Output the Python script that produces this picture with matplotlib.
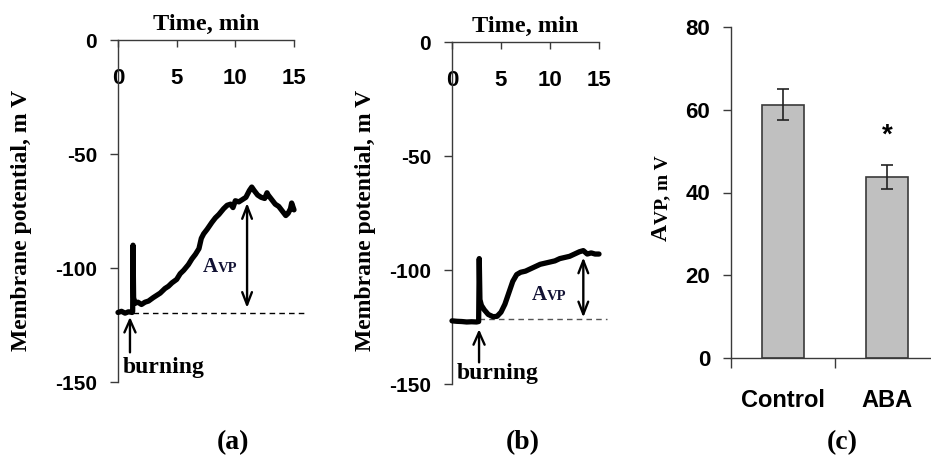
import numpy as np
import matplotlib.pyplot as plt

plt.rcParams["axes.unicode_minus"] = False

# Panel (a): membrane potential trace (time in min, potential in mV)
t_a = [0, 0.3, 0.6, 0.9, 1.2, 1.25, 1.28, 1.33, 1.45, 1.7, 2.0, 2.3, 2.6, 3.0, 3.3,
       3.6, 4.0, 4.3, 4.6, 5.0, 5.3, 5.6, 6.0, 6.3, 6.6, 6.9, 7.1, 7.3, 7.6, 8.0,
       8.3, 8.6, 9.0, 9.3, 9.6, 9.8, 10.0, 10.3, 10.6, 10.9, 11.2, 11.4, 11.6,
       11.9, 12.2, 12.5, 12.7, 12.8, 13.1, 13.4, 13.7, 14.0, 14.3, 14.5, 14.7,
       14.8, 15.0]
v_a = [-119.5, -119, -119.8, -119.2, -119.5, -119, -90, -113, -115.5, -115, -116,
       -115, -114.5, -113, -112, -111, -109, -108, -106.5, -105, -102.5, -101,
       -98.5, -96, -94, -91.5, -87, -85, -83, -80, -78, -76.5, -74, -72.5, -72,
       -73.5, -70.5, -71, -70, -69, -66, -64.5, -66, -68, -69, -69.5, -67, -68,
       -70, -72, -73, -75, -77, -76, -74, -71.5, -74.5]
base_a = -119.6

# Panel (b): membrane potential trace
t_b = [0, 0.5, 1.0, 1.5, 2.0, 2.5, 2.72, 2.78, 2.85, 3.0, 3.3, 3.7, 4.2, 4.6, 5.0,
       5.4, 5.8, 6.2, 6.6, 7.0, 7.5, 8.0, 8.5, 9.0, 9.5, 10.0, 10.5, 11.0, 11.5,
       12.0, 12.5, 13.0, 13.4, 13.8, 14.2, 14.6, 15.0]
v_b = [-122.3, -122.5, -122.6, -122.8, -122.7, -122.8, -122.6, -95, -113, -115.5,
       -117.5, -119.5, -120.5, -120.3, -118.5, -115, -110, -105, -102, -101,
       -100.5, -99.5, -98.5, -97.5, -97, -96.5, -96, -95, -94.5, -94, -93, -92,
       -91.5, -93, -92.5, -93, -93]
base_b = -121.3

# Panel (c): A_VP bars
groups = ["Control", "ABA"]
avp_mean = [61.2, 43.8]
avp_err = [3.7, 2.9]

serif = "Liberation Serif"
sans = "Liberation Sans"
axcol = "#3a3a3a"

fig = plt.figure(figsize=(9.31, 4.59), dpi=100)


def trace_axes(rect, t, v, base, t0, dash_end, dash_col, arr_t, arr_top, arr_bot,
               lab_xy, burn_t, burn_tail, burn_tip, burn_xy):
    ax = fig.add_axes(rect)
    ax.set_xlim(0, 15)
    ax.set_ylim(-150, 0)
    ax.spines["top"].set_visible(False)
    ax.spines["right"].set_visible(False)
    ax.spines["bottom"].set_position(("data", 0))
    for s in ("left", "bottom"):
        ax.spines[s].set_color(axcol)
        ax.spines[s].set_linewidth(1.0)
    ax.set_xticks([0, 5, 10, 15])
    ax.set_yticks([0, -50, -100, -150])
    ax.tick_params(axis="x", direction="out", length=5, width=1, color=axcol,
                   pad=15, labelsize=16)
    ax.tick_params(axis="y", direction="out", length=6, width=1, color=axcol,
                   pad=9, labelsize=15)
    for lab in ax.get_xticklabels() + ax.get_yticklabels():
        lab.set_fontfamily(sans)
        lab.set_fontweight("bold")
    ax.xaxis.set_label_position("top")
    ax.set_xlabel("Time, min", fontfamily=serif, fontweight="bold", fontsize=17.5,
                  labelpad=7)

    ax.plot(t, v, color="black", lw=3.8, solid_joinstyle="round",
            solid_capstyle="round", clip_on=False, zorder=3)
    ax.plot([t0, dash_end], [base, base], ls=(0, (4, 3)), color=dash_col, lw=1.0,
            clip_on=False)
    ax.annotate("", xy=(arr_t, arr_top), xytext=(arr_t, arr_bot),
                arrowprops=dict(arrowstyle="<->,head_length=0.9,head_width=0.35",
                                lw=1.7, color="black", shrinkA=0, shrinkB=0))
    ax.text(lab_xy[0], lab_xy[1], "A", fontfamily=serif, fontweight="bold",
            fontsize=15, ha="right", va="baseline", color="#111133")
    ax.text(lab_xy[0], lab_xy[1], "VP", fontfamily=serif, fontweight="bold",
            fontsize=10.5, ha="left", va="baseline", color="#111133")
    ax.annotate("", xy=(burn_t, burn_tip), xytext=(burn_t, burn_tail),
                arrowprops=dict(arrowstyle="->,head_length=0.9,head_width=0.4",
                                lw=1.7, color="black", shrinkA=0, shrinkB=0),
                annotation_clip=False)
    ax.text(burn_xy[0], burn_xy[1], "burning", fontfamily=serif, fontweight="bold",
            fontsize=17, ha="left", va="center")
    return ax


ax_a = trace_axes([118 / 931, 1 - 382 / 459, 176 / 931, 342 / 459],
                  t_a, v_a, base_a, 1.28, 16.1, "black", 11.0, -71.5, -117.5,
                  (8.55, -101.8), 1.02, -137, -121.5, (0.4, -143.5))
ax_b = trace_axes([452 / 931, 1 - 384 / 459, 147 / 931, 342 / 459],
                  t_b, v_b, base_b, 2.8, 15.8, "#555555", 13.4, -94.5, -120.8,
                  (9.7, -113), 2.76, -140.5, -126, (0.5, -145.5))

for x in (22, 365):
    fig.text(x / 931, 1 - 220 / 459, "Membrane potential, m V", rotation=90,
             fontfamily=serif, fontweight="bold", fontsize=17, ha="center",
             va="center")

# Panel (c)
ax_c = fig.add_axes([731 / 931, 1 - 358 / 459, 208 / 931, 331 / 459])
x = np.arange(len(groups))
ax_c.bar(x, avp_mean, width=0.4, color="#c0c0c0", edgecolor="#3a3a3a", lw=1.2,
         zorder=2)
ax_c.errorbar(x, avp_mean, yerr=avp_err, fmt="none", ecolor="#222222",
              elinewidth=1.2, capsize=4, capthick=1.2, zorder=3)
ax_c.set_xlim(-0.5, 1.5)
ax_c.set_ylim(0, 80)
ax_c.spines["top"].set_visible(False)
ax_c.spines["right"].set_visible(False)
for s in ("left", "bottom"):
    ax_c.spines[s].set_color(axcol)
    ax_c.spines[s].set_linewidth(1.0)
ax_c.set_yticks([0, 20, 40, 60, 80])
ax_c.set_xticks(x)
ax_c.set_xticklabels(groups)
ax_c.set_xticks([-0.5, 0.5], minor=True)
ax_c.tick_params(axis="x", which="major", length=0, pad=22, labelsize=17)
ax_c.tick_params(axis="x", which="minor", length=7, width=1, color=axcol)
ax_c.tick_params(axis="y", direction="out", length=6, width=1, color=axcol, pad=9,
                 labelsize=16)
for lab in ax_c.get_xticklabels() + ax_c.get_yticklabels():
    lab.set_fontfamily(sans)
    lab.set_fontweight("bold")
ax_c.text(1, avp_mean[1] + avp_err[1] + 7, "*", fontfamily=sans, fontweight="bold",
          fontsize=20, ha="center", va="center")

fig.text(667 / 931, 1 - 224 / 459, "A", rotation=90, rotation_mode="anchor",
         fontfamily=serif, fontweight="bold", fontsize=17, ha="right",
         va="baseline")
fig.text(667 / 931, 1 - 224 / 459, "VP, m V", rotation=90, rotation_mode="anchor",
         fontfamily=serif, fontweight="bold", fontsize=14, ha="left",
         va="baseline")

for xc, lab in ((233, "(a)"), (523, "(b)"), (842, "(c)")):
    fig.text(xc / 931, 1 - 443 / 459, lab, fontfamily=serif, fontweight="bold",
             fontsize=20, ha="center", va="center")

fig.savefig("out.png", dpi=100)
